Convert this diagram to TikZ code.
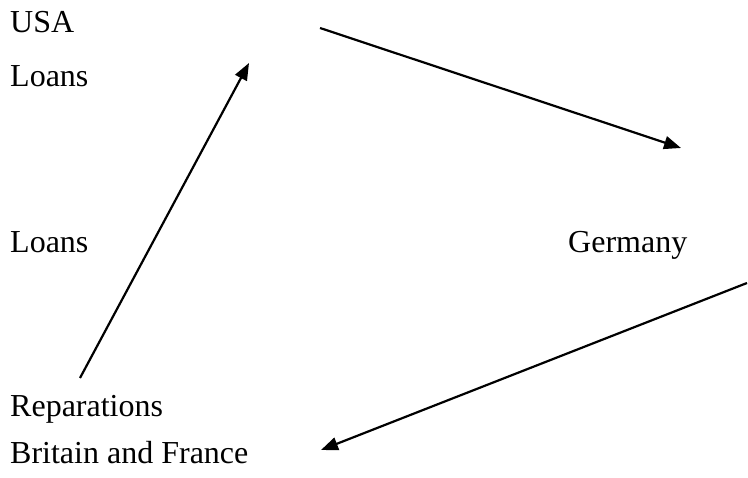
\documentclass[tikz,border=0pt]{standalone}
\usepackage{fontspec}
\setmainfont{Liberation Serif}
\usetikzlibrary{arrows.meta,positioning}
\tikzset{
    label/.style={anchor=base west, inner sep=0pt, font=\fontsize{32}{38}\selectfont},
    line/.style={draw, line width=2.2pt, -{Triangle[length=17pt,width=13pt]}}
}

\begin{document}
\begin{tikzpicture}[x=1pt,y=-1pt]
    \useasboundingbox (0,0) rectangle (748,478);

    % Countries and flows
    \node [label] (usa) at (10,33) {USA};
    \node [label] (loansTop) at (10,87) {Loans};
    \node [label] (loansLeft) at (10,253) {Loans};
    \node [label] (germany) at (568,253) {Germany};
    \node [label] (reparations) at (10,417) {Reparations};
    \node [label] (britain) at (10,464) {Britain and France};

    % Arrow end points
    \coordinate (usaOut) at (320,28);
    \coordinate (germanyIn) at (681,148);
    \coordinate (germanyOut) at (747,283);
    \coordinate (britainIn) at (321,450);
    \coordinate (britainOut) at (80,378);
    \coordinate (usaIn) at (249,63);

    \path [line] (usaOut) -- (germanyIn);
    \path [line] (germanyOut) -- (britainIn);
    \path [line] (britainOut) -- (usaIn);
\end{tikzpicture}
\end{document}
